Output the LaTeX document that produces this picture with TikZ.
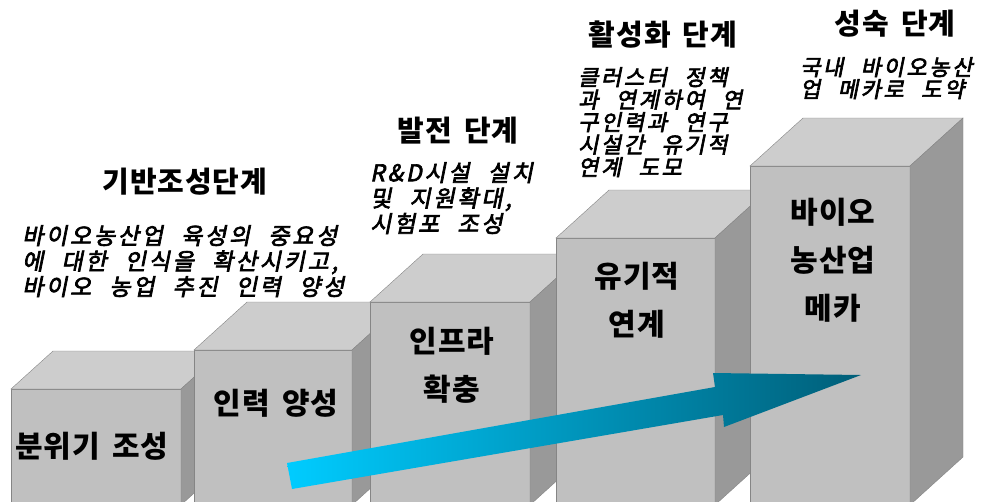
\documentclass[tikz,border=0pt]{standalone}
\usepackage{fontspec}
\setmainfont{Noto Sans CJK KR}
\newfontfamily\headfont[LetterSpace=3,WordSpace=1.6]{Noto Sans CJK KR}
\newfontfamily\brushfont[FakeSlant=0.2,FakeBold=3,LetterSpace=12,WordSpace=2.3]{Noto Sans CJK KR}
\definecolor{BoxFront}{HTML}{C0C0C0}
\definecolor{BoxTop}{HTML}{CDCDCD}
\definecolor{BoxSide}{HTML}{999999}
\definecolor{BoxLine}{HTML}{858585}
\definecolor{ArrowLight}{HTML}{00CCFF}
\definecolor{ArrowDark}{HTML}{005E78}
\usetikzlibrary{positioning}

\begin{document}
\begin{tikzpicture}[x=1pt, y=-1pt,
  stage title/.style={font=\headfont\bfseries\fontsize{29}{32}\selectfont, inner sep=0pt},
  stage note/.style={font=\brushfont\fontsize{23}{25.5}\selectfont, align=left, inner sep=0pt, anchor=north west},
  box label/.style={font=\headfont\bfseries\fontsize{30}{48}\selectfont, align=center, inner sep=0pt}]
  \useasboundingbox (0,0) rectangle (995,501);
  \clip (0,0) rectangle (995,501);
  % Steps: front left/right, front top, depth x/y
  \foreach \xl/\xr/\yt/\dx/\dy in {11/181/389/42/38, 194/352/350/53/48, 370/530/302/53/48,
                                   556/715/238/53/48, 750/910/166/53/48} {
    \filldraw[draw=BoxLine, fill=BoxFront] (\xl,\yt) rectangle (\xr,505);
    \filldraw[draw=BoxLine, fill=BoxTop] (\xl,\yt) -- ++(\dx,-\dy) -- ++(\xr-\xl,0) -- (\xr,\yt) -- cycle;
    \filldraw[draw=BoxLine, fill=BoxSide] (\xr,\yt) -- ++(\dx,-\dy) -- ++(0,505-\yt) -- (\xr,505) -- cycle;
  }
  % Labels on the steps
  \node[box label] (b1) at (92,446) {분위기 조성};
  \node[box label] (b2) at (276,403) {인력 양성};
  \node[box label] (b3) at (452,365) {인프라\\확충};
  \node[box label] (b4) at (637,300) {유기적\\연계};
  \node[box label] (b5) at (833,260) {바이오\\농산업\\메카};
  % Growth arrow
  \shade[left color=ArrowLight, right color=ArrowDark]
    (287,463) -- (715,387) -- (713,373) -- (861,375) -- (724,427) -- (723,415) -- (292,489) -- cycle;
  % Stage titles
  \node[stage title] (t1) at (185,182) {기반조성단계};
  \node[stage title] (t2) at (458,131) {발전 단계};
  \node[stage title] (t3) at (663,35) {활성화 단계};
  \node[stage title] (t4) at (895,24) {성숙 단계};
  % Stage notes
  \node[stage note] (n1) at (22,225) {바이오농산업 육성의 중요성\\에 대한 인식을 확산시키고,\\바이오 농업 추진 인력 양성};
  \node[stage note] (n2) at (370,162) {R\&D시설 설치\\및 지원확대,\\시험포 조성};
  \node[stage note, font=\brushfont\fontsize{22}{22.5}\selectfont] (n3) at (578,67)
    {클러스터 정책\\과 연계하여 연\\구인력과 연구\\시설간 유기적\\연계 도모};
  \node[stage note, font=\brushfont\fontsize{22}{22}\selectfont] (n4) at (800,57) {국내 바이오농산\\업 메카로 도약};
\end{tikzpicture}
\end{document}
